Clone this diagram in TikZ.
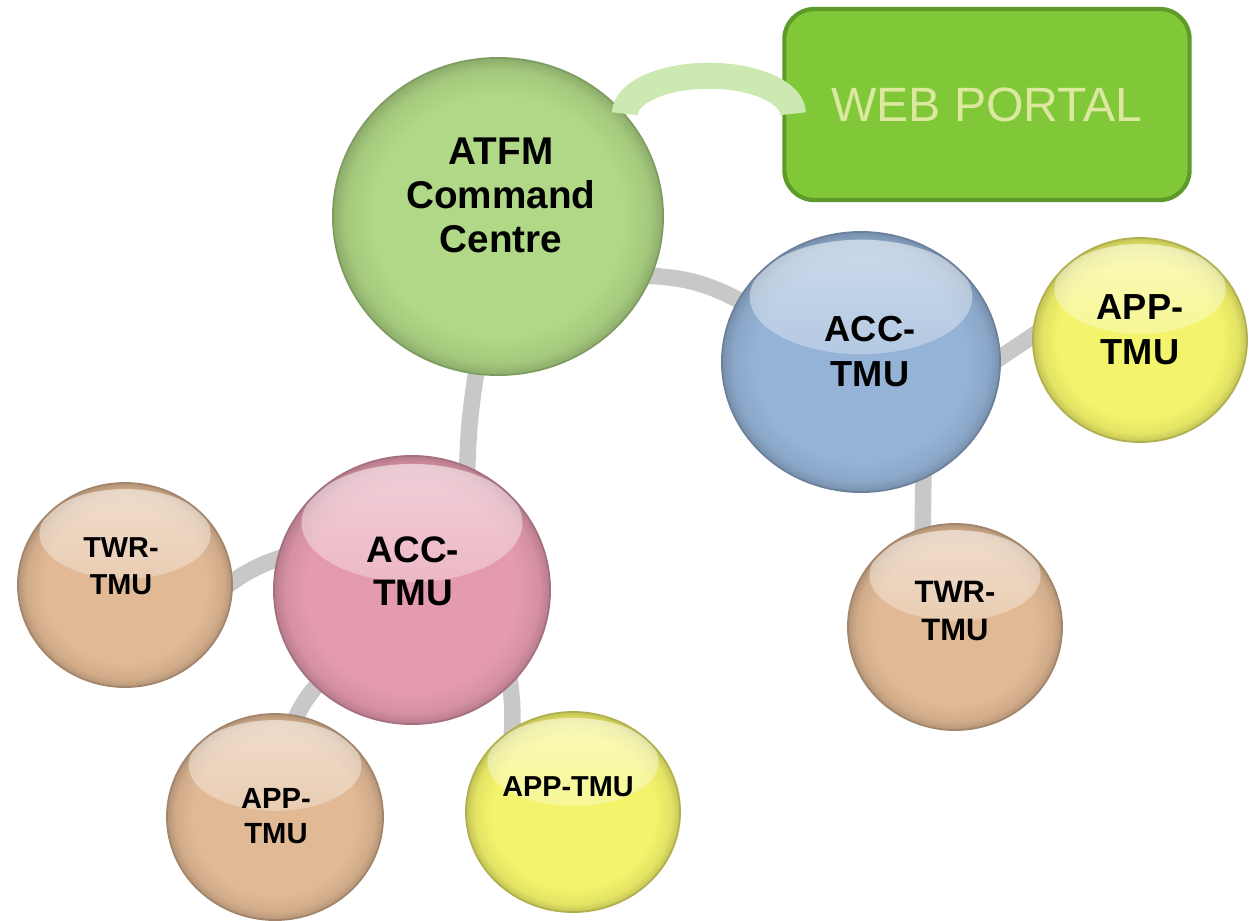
\documentclass[tikz,border=0pt]{standalone}
\usepackage{fontspec}
\setmainfont{Liberation Sans}
\usetikzlibrary{shapes.geometric,backgrounds,fadings,calc}

\definecolor{cmdgreen}{HTML}{B0D886}
\definecolor{accblue}{HTML}{95B3D7}
\definecolor{appyellow}{HTML}{F4F46C}
\definecolor{twrbrown}{HTML}{E1B994}
\definecolor{accpink}{HTML}{E59BAF}
\definecolor{portalgreen}{HTML}{80C837}
\definecolor{portaledge}{HTML}{5E9A2A}
\definecolor{portaltext}{HTML}{DCE8A0}
\definecolor{linkgray}{HTML}{C8C8C8}
\definecolor{arcgreen}{HTML}{CDE9B2}

\pgfdeclareradialshading[bubblefill]{bubble}{\pgfpoint{0bp}{0bp}}{%
  color(0bp)=(bubblefill); color(19bp)=(bubblefill);
  color(23bp)=(bubblefill!93!black); color(25bp)=(bubblefill!80!black);
  color(50bp)=(bubblefill!80!black)}
\tikzfading[name=gloss, top color=transparent!45, middle color=transparent!85, bottom color=transparent!100]

\newcommand\tagsize[2]{\fontsize{#1}{#2}\selectfont\bfseries}

\tikzset{
  bubble/.style={ellipse, inner sep=0pt, draw=#1!72!black, line width=0.5pt,
    /utils/exec={\colorlet{bubblefill}{#1}}, shade, shading=bubble},
  gloss/.style={path picture={
    \fill[white, path fading=gloss]
      let \p1=(path picture bounding box.north east), \p2=(path picture bounding box.center)
      in (\x2,{\y2+0.5*(\y1-\y2)}) ellipse [x radius={0.8*(\x1-\x2)}, y radius={0.44*(\y1-\y2)}];
  }},
  tag/.style={align=center, inner sep=0pt},
  link/.style={draw=linkgray, line width=4.7pt, shorten <=-6pt, shorten >=-6pt},
  portal/.style={rectangle, rounded corners=0.3cm, fill=portalgreen, draw=portaledge,
    line width=1.2pt, text=portaltext, font=\fontsize{13.7}{16}\selectfont},
}

\begin{document}
\begin{tikzpicture}[x=0.01cm, y=-0.01cm]
  \useasboundingbox (0,0) rectangle (1253,920);

  \node[bubble=cmdgreen, minimum width=3.30cm, minimum height=3.17cm] (atfm) at (498,216.5) {};
  \node[bubble=accblue, gloss, minimum width=2.78cm, minimum height=2.60cm] (accb) at (861,362) {};
  \node[bubble=appyellow, gloss, minimum width=2.14cm, minimum height=2.04cm] (appr) at (1140,340) {};
  \node[bubble=twrbrown, gloss, minimum width=2.14cm, minimum height=2.06cm] (twrr) at (955,627) {};
  \node[bubble=accpink, gloss, minimum width=2.76cm, minimum height=2.68cm] (accp) at (412,590) {};
  \node[bubble=twrbrown, gloss, minimum width=2.14cm, minimum height=2.04cm] (twrl) at (125,585) {};
  \node[bubble=twrbrown, gloss, minimum width=2.16cm, minimum height=2.06cm] (appbl) at (275,817) {};
  \node[bubble=appyellow, gloss, minimum width=2.14cm, minimum height=2.00cm] (appy) at (573,812) {};

  \node[tag, font=\tagsize{11}{12.5}] (atfmtag) at ($(atfm)+(3,-21.5)$) {ATFM\\Command\\Centre};
  \node[tag, font=\tagsize{10.3}{12.8}] (accbtag) at ($(accb)+(9,-10)$) {ACC-\\TMU};
  \node[tag, font=\tagsize{10.3}{12.8}] (apprtag) at ($(appr)+(0,-10)$) {APP-\\TMU};
  \node[tag, font=\tagsize{8.8}{10.8}] (twrrtag) at ($(twrr)+(0,-16)$) {TWR-\\TMU};
  \node[tag, font=\tagsize{10.5}{12.3}] (accptag) at ($(accp)+(1,-19)$) {ACC-\\TMU};
  \node[tag, font=\tagsize{8.2}{10.5}] (twrltag) at ($(twrl)+(-4,-19)$) {TWR-\\TMU};
  \node[tag, font=\tagsize{8.3}{10}] (appbltag) at ($(appbl)+(1,-1)$) {APP-\\TMU};
  \node[tag, font=\tagsize{8.2}{10}] (appytag) at ($(appy)+(-5,-25)$) {APP-TMU};

  \node[portal, minimum width=4.05cm, minimum height=1.91cm] (web) at (987,104.5) {WEB PORTAL};

  \begin{pgfonlayer}{background}
    \draw[link] (atfm.-21) to[bend left=14] (accb.153);
    \draw[link] (atfm.-98) to[bend right=4] (accp.66);
    \draw[link] (accb.2) -- (appr.178);
    \draw[link] (accb.-62) -- (twrr.108);
    \draw[link] (twrl.2) to[bend left=10] (accp.167);
    \draw[link] (accp.-135) to[bend right=10] (appbl.78);
    \draw[link] (accp.-44) to[bend left=6] (appy.126);
  \end{pgfonlayer}

  \draw[arcgreen, line width=7.4pt] (atfm.39) arc[start angle=180, end angle=360, x radius=84, y radius=38];
\end{tikzpicture}
\end{document}
